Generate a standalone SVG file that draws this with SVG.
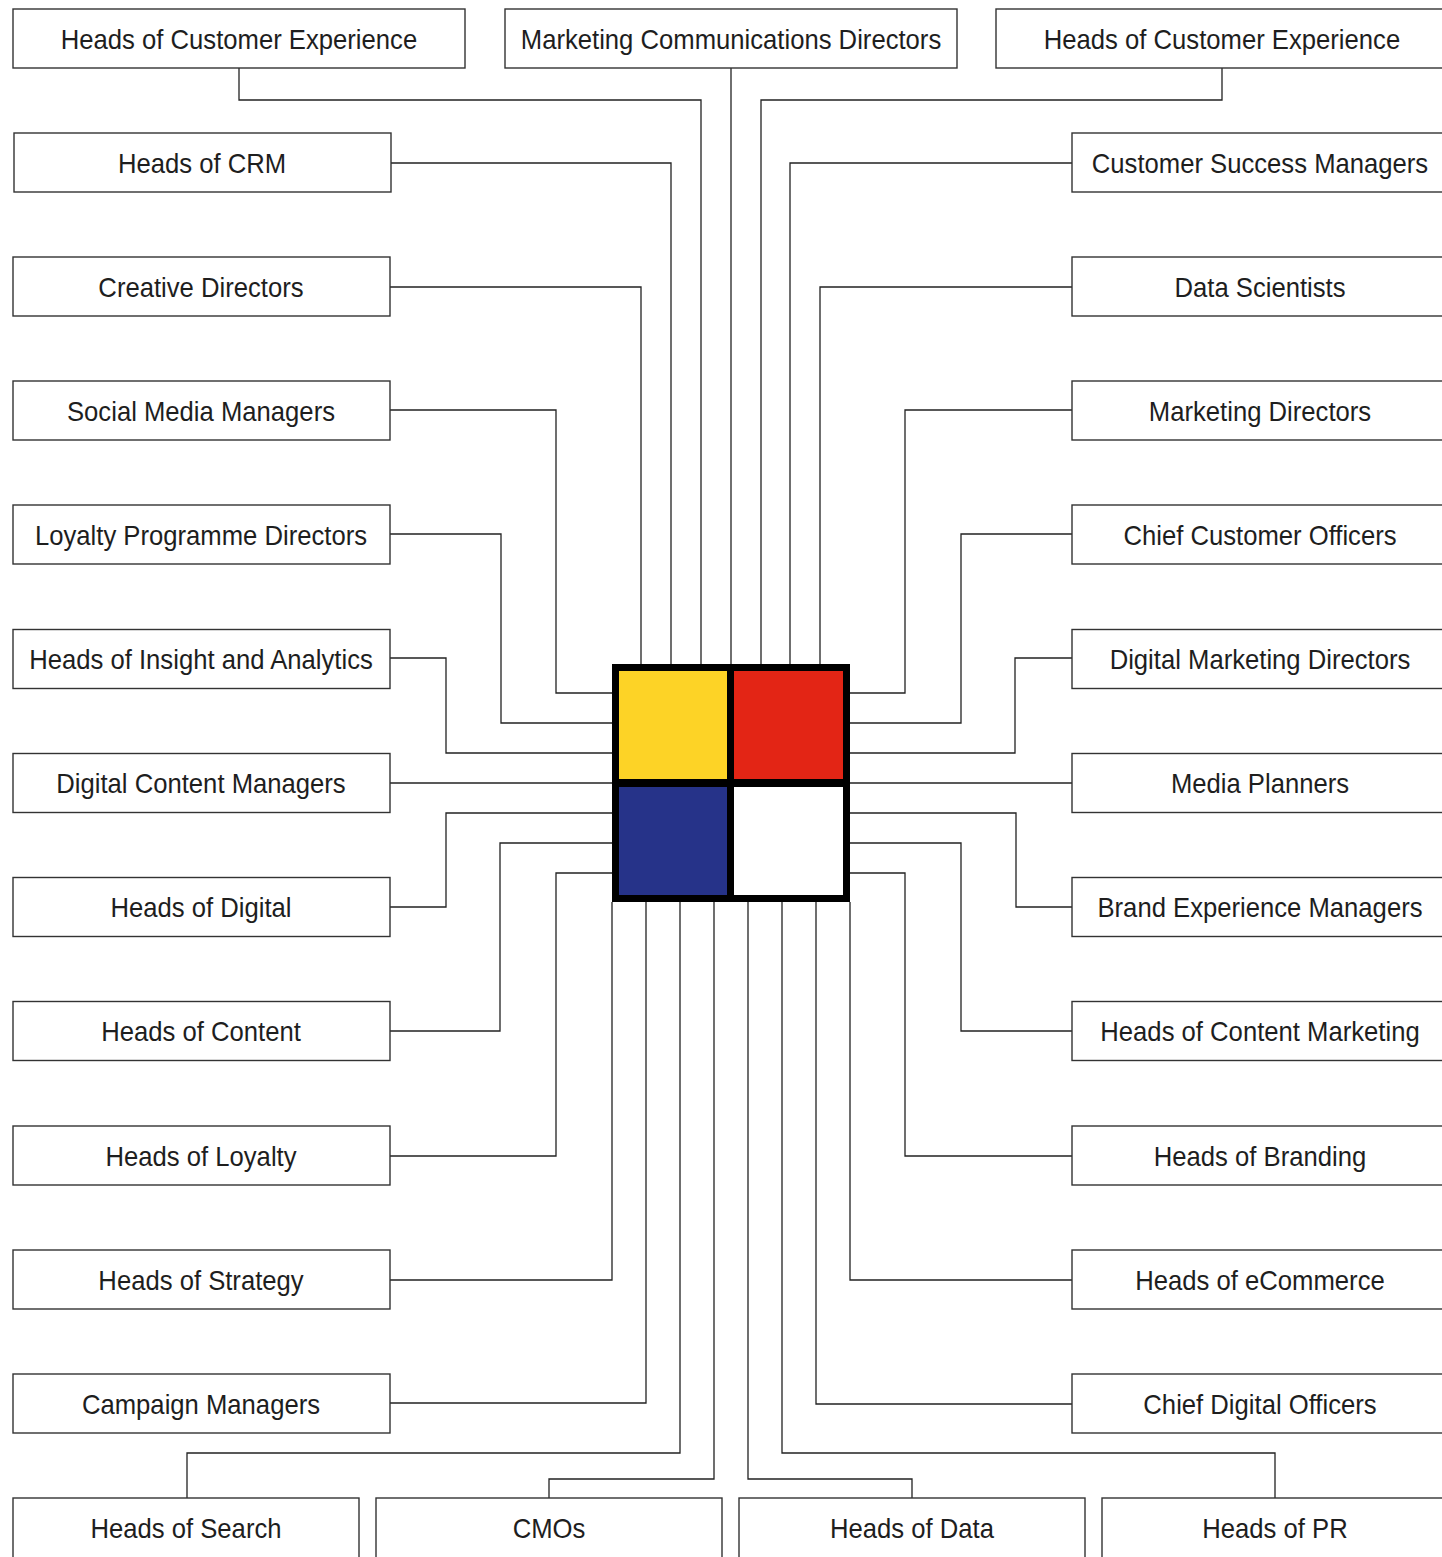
<svg xmlns="http://www.w3.org/2000/svg" width="1442" height="1557" viewBox="0 0 1442 1557">
<style>
.box{fill:#fff;stroke:#333;stroke-width:1.4}
.t{font-family:"Liberation Sans",Arial,sans-serif;font-size:28.5px;fill:#1e1e1e;text-anchor:middle;transform-box:fill-box;transform-origin:center;transform:scaleX(0.9)}
.c{fill:none;stroke:#222;stroke-width:1.3}
</style>
<rect x="0" y="0" width="1442" height="1557" fill="#fff"/>
<g id="connectors">
<path class="c" d="M239 68V100H701V664"/>
<path class="c" d="M731 68V664"/>
<path class="c" d="M1222 68V100H761V664"/>
<path class="c" d="M391 163H671V664"/>
<path class="c" d="M390 287H641V664"/>
<path class="c" d="M390 410H556V693H612"/>
<path class="c" d="M390 534H501V723H612"/>
<path class="c" d="M390 658H446V753H612"/>
<path class="c" d="M390 783H612"/>
<path class="c" d="M390 907H446V813H612"/>
<path class="c" d="M390 1031H500V843H612"/>
<path class="c" d="M390 1156H556V873H612"/>
<path class="c" d="M390 1280H612V902"/>
<path class="c" d="M390 1403H646V902"/>
<path class="c" d="M187 1498V1453H680V902"/>
<path class="c" d="M549 1498V1479H714V902"/>
<path class="c" d="M912 1498V1479H748V902"/>
<path class="c" d="M1275 1498V1453H782V902"/>
<path class="c" d="M1072 1404H816V902"/>
<path class="c" d="M1072 1280H850V902"/>
<path class="c" d="M1072 1156H905V873H850"/>
<path class="c" d="M1072 1031H961V843H850"/>
<path class="c" d="M1072 907H1016V813H850"/>
<path class="c" d="M1072 783H850"/>
<path class="c" d="M1072 658H1015V753H850"/>
<path class="c" d="M1072 534H961V723H850"/>
<path class="c" d="M1072 410H905V693H850"/>
<path class="c" d="M1072 287H820V664"/>
<path class="c" d="M1072 163H790V664"/>
</g>
<g id="center">
<rect x="612" y="664" width="238" height="238" fill="#000"/>
<rect x="619" y="671" width="108" height="108" fill="#FDD326"/>
<rect x="734" y="671" width="109" height="108" fill="#E32515"/>
<rect x="619" y="787" width="108" height="108" fill="#263389"/>
<rect x="734" y="787" width="109" height="108" fill="#fff"/>
</g>
<g id="n-hce-left"><rect class="box" x="13" y="9" width="452" height="59"/><text class="t" x="239" y="49">Heads of Customer Experience</text></g>
<g id="n-mcd"><rect class="box" x="505" y="9" width="452" height="59"/><text class="t" x="731" y="49">Marketing Communications Directors</text></g>
<g id="n-hce-right"><rect class="box" x="996" y="9" width="460" height="59"/><text class="t" x="1222" y="49">Heads of Customer Experience</text></g>

<g id="n-crm"><rect class="box" x="14" y="133" width="377" height="59"/><text class="t" x="202" y="173">Heads of CRM</text></g>
<g id="n-creative"><rect class="box" x="13" y="257" width="377" height="59"/><text class="t" x="201" y="297">Creative Directors</text></g>
<g id="n-social"><rect class="box" x="13" y="381" width="377" height="59"/><text class="t" x="201" y="421">Social Media Managers</text></g>
<g id="n-loyaltyprog"><rect class="box" x="13" y="505" width="377" height="59"/><text class="t" x="201" y="545">Loyalty Programme Directors</text></g>
<g id="n-insight"><rect class="box" x="13" y="629.5" width="377" height="59"/><text class="t" x="201" y="669.5">Heads of Insight and Analytics</text></g>
<g id="n-dcm"><rect class="box" x="13" y="753.5" width="377" height="59"/><text class="t" x="201" y="793.5">Digital Content Managers</text></g>
<g id="n-digital"><rect class="box" x="13" y="877.5" width="377" height="59"/><text class="t" x="201" y="917.5">Heads of Digital</text></g>
<g id="n-content"><rect class="box" x="13" y="1001.5" width="377" height="59"/><text class="t" x="201" y="1041.5">Heads of Content</text></g>
<g id="n-loyalty"><rect class="box" x="13" y="1126" width="377" height="59"/><text class="t" x="201" y="1166">Heads of Loyalty</text></g>
<g id="n-strategy"><rect class="box" x="13" y="1250" width="377" height="59"/><text class="t" x="201" y="1290">Heads of Strategy</text></g>
<g id="n-campaign"><rect class="box" x="13" y="1374" width="377" height="59"/><text class="t" x="201" y="1414">Campaign Managers</text></g>

<g id="n-csm"><rect class="box" x="1072" y="133" width="380" height="59"/><text class="t" x="1260" y="173">Customer Success Managers</text></g>
<g id="n-datasci"><rect class="box" x="1072" y="257" width="380" height="59"/><text class="t" x="1260" y="297">Data Scientists</text></g>
<g id="n-mktdir"><rect class="box" x="1072" y="381" width="380" height="59"/><text class="t" x="1260" y="421">Marketing Directors</text></g>
<g id="n-cco"><rect class="box" x="1072" y="505" width="380" height="59"/><text class="t" x="1260" y="545">Chief Customer Officers</text></g>
<g id="n-dmd"><rect class="box" x="1072" y="629.5" width="380" height="59"/><text class="t" x="1260" y="669.5">Digital Marketing Directors</text></g>
<g id="n-media"><rect class="box" x="1072" y="753.5" width="380" height="59"/><text class="t" x="1260" y="793.5">Media Planners</text></g>
<g id="n-bem"><rect class="box" x="1072" y="877.5" width="380" height="59"/><text class="t" x="1260" y="917.5">Brand Experience Managers</text></g>
<g id="n-contentmkt"><rect class="box" x="1072" y="1001.5" width="380" height="59"/><text class="t" x="1260" y="1041.5">Heads of Content Marketing</text></g>
<g id="n-branding"><rect class="box" x="1072" y="1126" width="380" height="59"/><text class="t" x="1260" y="1166">Heads of Branding</text></g>
<g id="n-ecommerce"><rect class="box" x="1072" y="1250" width="380" height="59"/><text class="t" x="1260" y="1290">Heads of eCommerce</text></g>
<g id="n-cdo"><rect class="box" x="1072" y="1374" width="380" height="59"/><text class="t" x="1260" y="1414">Chief Digital Officers</text></g>

<g id="n-search"><rect class="box" x="13" y="1498" width="346" height="70"/><text class="t" x="186" y="1538">Heads of Search</text></g>
<g id="n-cmos"><rect class="box" x="376" y="1498" width="346" height="70"/><text class="t" x="549" y="1538">CMOs</text></g>
<g id="n-data"><rect class="box" x="739" y="1498" width="346" height="70"/><text class="t" x="912" y="1538">Heads of Data</text></g>
<g id="n-pr"><rect class="box" x="1102" y="1498" width="350" height="70"/><text class="t" x="1275" y="1538">Heads of PR</text></g>
</svg>
